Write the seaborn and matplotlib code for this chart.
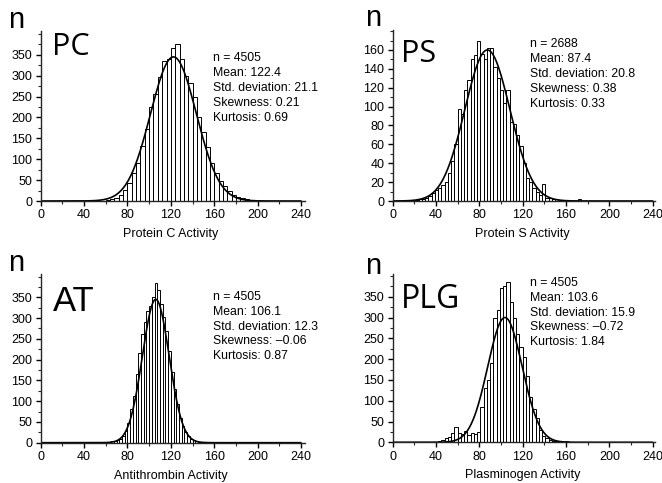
import numpy as np
import pandas as pd
import matplotlib
matplotlib.use("Agg")
import matplotlib.pyplot as plt
from matplotlib.ticker import MultipleLocator
import seaborn as sns

# ---------------- data ----------------
panel_codes = ["PC", "PS", "AT", "PLG"]
x_labels = ["Protein C Activity", "Protein S Activity", "Antithrombin Activity", "Plasminogen Activity"]

stat_n = [4505, 2688, 4505, 4505]
stat_mean = [122.4, 87.4, 106.1, 103.6]
stat_sd = [21.1, 20.8, 12.3, 15.9]
stat_skew = ["0.21", "0.38", "\u20130.06", "\u20130.72"]
stat_kurt = ["0.69", "0.33", "0.87", "1.84"]

# y tick labels per panel
y_ticks_big = [0, 50, 100, 150, 200, 250, 300, 350]
y_ticks_ps = [0, 20, 40, 60, 80, 100, 120, 140, 160]
x_ticks = [0, 40, 80, 120, 160, 200, 240]

# fitted-curve peak heights
curve_peak = [345, 160, 345, 300]

# histograms: first bin edge, bin width, counts
pc_start, pc_width = 40, 4
pc_counts = [0, 1, 0, 0, 1, 2, 4, 8, 14, 26, 42, 66, 92, 132, 172, 226, 256, 296,
             336, 340, 366, 376, 340, 300, 282, 250, 200, 164, 130, 92, 66, 47, 36,
             24, 14, 10, 8, 4, 2, 1, 1, 0, 1]

ps_start, ps_width = 15, 3
ps_counts = [1, 1, 1, 2, 2, 3, 5, 8, 12, 14, 17, 20, 30, 42, 60, 98, 92, 118, 128,
             150, 155, 170, 156, 150, 162, 162, 142, 130, 118, 104, 118, 84, 82, 70,
             58, 40, 24, 20, 14, 10, 6, 18, 3, 3, 2, 2, 0, 1, 0, 0, 0, 0, 2]

at_start, at_width = 40, 2.5
at_counts = [2, 1, 0, 1, 1, 2, 1, 2, 2, 2, 3, 4, 6, 10, 16, 28, 48, 80, 112, 165,
             215, 262, 290, 318, 330, 350, 385, 368, 335, 302, 268, 220, 170, 130,
             92, 60, 40, 26, 16, 10, 6, 4, 2, 1]

plg_start, plg_width = 42, 3
plg_counts = [3, 6, 10, 12, 22, 36, 22, 20, 26, 18, 22, 20, 24, 86, 130, 150, 190,
              300, 318, 370, 375, 386, 338, 300, 260, 230, 206, 160, 110, 80, 58, 30,
              14, 10, 6, 4, 2, 2, 1, 4, 1]

hist_starts = [pc_start, ps_start, at_start, plg_start]
hist_widths = [pc_width, ps_width, at_width, plg_width]
hist_counts = [pc_counts, ps_counts, at_counts, plg_counts]
y_ticks = [y_ticks_big, y_ticks_ps, y_ticks_big, y_ticks_big]

# ---------------- layout (pixels) ----------------
W, H = 662, 483
sns.set_style("ticks")
plt.rcParams["font.family"] = ["Liberation Sans", "DejaVu Sans"]

fig = plt.figure(figsize=(W / 100, H / 100), dpi=100)
fig.patch.set_facecolor("white")

# l, r, bottom, top (pixels), xmax, ymax, y minor step
boxes = [
    (40.7, 305.0, 201.0, 31.0, 243.7, 407.0, 25),
    (392.7, 655.0, 201.0, 29.5, 242.1, 181.7, 10),
    (40.7, 305.0, 442.7, 273.5, 243.7, 407.3, 25),
    (392.7, 655.0, 442.3, 273.5, 242.1, 405.8, 25),
]
# text anchors
n_pos = [(8, 20), (365, 18), (8, 263), (365, 266)]
code_pos = [(52, 55, "Open Sans", 22), (401, 62, "Open Sans", 22),
            (53, 311, "Liberation Sans", 25), (401, 308, "Open Sans", 23)]
stats_pos = [(213, 58), (530, 44), (213, 297), (530, 283)]
stats_gap = [14.9, 15, 14.8, 14.8]


def fx(px):
    return px / W


def fy(py):
    return 1 - py / H


for i in range(4):
    l, r, b, t, xmax, ymax, yminor = boxes[i]
    ax = fig.add_axes([fx(l), fy(b), (r - l) / W, (b - t) / H])
    ax.set_facecolor("none")

    w = hist_widths[i]
    counts = np.array(hist_counts[i], dtype=float)
    lo = hist_starts[i]
    hi = lo + w * len(counts)
    centers = lo + w * (np.arange(len(counts)) + 0.5)
    df = pd.DataFrame({"x": centers, "count": counts})
    sns.histplot(data=df, x="x", weights="count", binwidth=w, binrange=(lo, hi),
                 ax=ax, color="white", edgecolor="black", linewidth=0.7,
                 alpha=1.0)

    xs = np.linspace(0, 240, 600)
    ys = curve_peak[i] * np.exp(-0.5 * ((xs - stat_mean[i]) / stat_sd[i]) ** 2)
    sns.lineplot(x=xs, y=ys, ax=ax, color="black", linewidth=1.2)

    ax.set_xlim(0, xmax)
    ax.set_ylim(0, ymax)
    ax.set_xlabel("")
    ax.set_ylabel("")
    ax.spines["top"].set_visible(False)
    ax.spines["right"].set_visible(False)
    ax.spines["left"].set_linewidth(1.0)
    ax.spines["bottom"].set_linewidth(1.0)
    ax.set_xticks(x_ticks)
    ax.set_yticks(y_ticks[i])
    ax.xaxis.set_minor_locator(MultipleLocator(20))
    ax.yaxis.set_minor_locator(MultipleLocator(yminor))
    ax.tick_params(axis="both", which="major", direction="out", length=3.5,
                   width=1.0, labelsize=9, pad=2.5, colors="black")
    ax.tick_params(axis="both", which="minor", direction="out", length=2,
                   width=0.8)

    fig.text(fx(l + 240 / xmax * (r - l) / 2), fy(b + 33), x_labels[i],
             ha="center", va="center", fontsize=9, color="black")

    nx, ny = n_pos[i]
    fig.text(fx(nx), fy(ny), "n", ha="left", va="center", fontsize=21,
             color="black")

    cxp, cyp, cfam, csz = code_pos[i]
    fig.text(fx(cxp), fy(cyp), panel_codes[i], ha="left", va="baseline",
             fontsize=csz, family=[cfam, "DejaVu Sans"], color="black")

    sx, sy = stats_pos[i]
    lines = [f"n = {stat_n[i]}",
             f"Mean: {stat_mean[i]:.1f}",
             f"Std. deviation: {stat_sd[i]:.1f}",
             f"Skewness: {stat_skew[i]}",
             f"Kurtosis: {stat_kurt[i]}"]
    for k, s in enumerate(lines):
        fig.text(fx(sx), fy(sy + k * stats_gap[i]), s, ha="left", va="center",
                 fontsize=8.8, color="black")

fig.savefig("out.png", dpi=100, facecolor="white")
